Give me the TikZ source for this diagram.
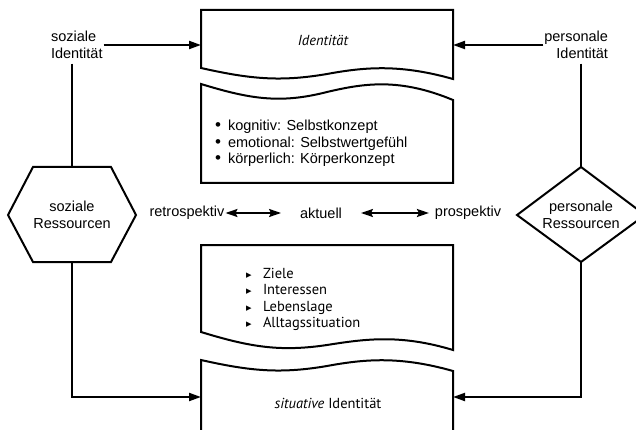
\documentclass[tikz,border=0pt]{standalone}
\usepackage{graphicx}
\usepackage{fontspec}
\setmainfont{Liberation Sans}
\newfontfamily\ptsans{PT Sans}
\newfontfamily\dejavu{DejaVu Sans}
\usetikzlibrary{arrows.meta}
\newcommand\mytri{\makebox[17pt][l]{\dejavu\fontsize{11}{11}\selectfont ▸}}
\newcommand\mybul{\makebox[13pt][l]{\fontsize{17}{17}\selectfont •}}
\begin{document}
\begin{tikzpicture}[x=1pt,y=-1pt,line width=2pt,
  hel/.style={font=\fontsize{14.5}{16.5}\selectfont, inner sep=0pt},
  pts/.style={font=\ptsans\fontsize{14.5}{16.5}\selectfont, inner sep=0pt},
  conn/.style={-{Triangle[length=12pt,width=8pt]}},
  dbl/.style={{Stealth[length=12pt,width=8pt,inset=2pt]}-{Stealth[length=12pt,width=8pt,inset=2pt]}}]
\useasboundingbox (0,0) rectangle (636,430);

% boxes
\draw (201,68) .. controls (250,79) and (280,82) .. (327,74) .. controls (365,67) and (400,64) .. (453,79) -- (453,10) -- (201,10) -- cycle;
\draw (201,84) .. controls (250,99) and (280,104) .. (327,92) .. controls (365,83) and (400,78) .. (453,100) -- (453,183) -- (201,183) -- cycle;
\draw (201,332) .. controls (250,347) and (280,352) .. (327,345) .. controls (365,339) and (400,334) .. (453,350) -- (453,245) -- (201,245) -- cycle;
\draw (201,440) -- (201,360) .. controls (250,371) and (280,374) .. (327,366) .. controls (365,359) and (400,356) .. (453,371) -- (453,440);

\coordinate (b1w) at (201,45);
\coordinate (b1e) at (453,45);
\coordinate (b4w) at (201,397);
\coordinate (b4e) at (453,397);

\node[pts, font=\ptsans\itshape\fontsize{14.5}{16.5}\selectfont] (idt) at (323,40) {Identität};

\node[hel, anchor=base west] (k1) at (214,131) {\mybul kognitiv: Selbstkonzept};
\node[hel, anchor=base west] (k2) at (214,147.5) {\mybul emotional: Selbstwertgefühl};
\node[hel, anchor=base west] (k3) at (214,164) {\mybul körperlich: Körperkonzept};

\node[pts, anchor=base west] (z1) at (245,278) {\mytri Ziele};
\node[pts, anchor=base west] (z2) at (245,294.5) {\mytri Interessen};
\node[pts, anchor=base west] (z3) at (245,311) {\mytri Lebenslage};
\node[pts, anchor=base west] (z4) at (245,327.5) {\mytri Alltagssituation};

\node[pts] (sit) at (328,403) {\textit{situative} Identität};

% side labels
\node[hel, align=left, anchor=west] (soz) at (50,45) {soziale\\Identität};
\node[hel, align=right, anchor=east] (per) at (609,45) {personale\\Identität};

% hexagon
\draw (33,167) -- (111,167) -- (136,215) -- (111,262) -- (33,262) -- (8,215) -- cycle;
\node[hel, align=center] (sr) at (72,215) {soziale\\Ressourcen};
\coordinate (hexT) at (72,167);
\coordinate (hexB) at (72,262);

% diamond
\draw (581,167) -- (645,215) -- (581,262) -- (517,215) -- cycle;
\node[hel, align=center] (pr) at (581,215) {personale\\Ressourcen};
\coordinate (diaT) at (581,167);
\coordinate (diaB) at (581,262);

% middle row
\node[hel] (retro) at (187,213) {retrospektiv};
\node[hel] (akt) at (321,213) {aktuell};
\node[hel] (pros) at (468,213) {prospektiv};
\draw[dbl, shorten >=18pt] (retro.east) -- (akt.west);
\draw[dbl, shorten <=18pt, shorten >=5pt] (akt.east) -- (pros.west);

% connectors
\draw[conn] (soz.east) -- (b1w);
\draw[conn] (per.west) -- (b1e);
\draw ([yshift=-4pt]soz.south -| hexT) -- (hexT);
\draw ([yshift=-4pt]per.south -| diaT) -- (diaT);
\draw[conn] (hexB) -- (hexB |- b4w) -- (b4w);
\draw[conn] (diaB) -- (diaB |- b4e) -- (b4e);
\end{tikzpicture}
\end{document}
